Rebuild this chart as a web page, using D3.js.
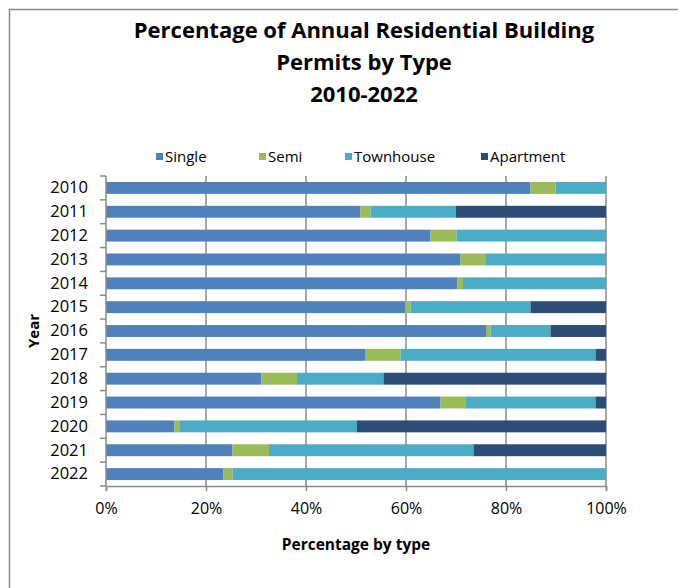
<!DOCTYPE html>
<html>
<head>
<meta charset="utf-8">
<script src="https://cdn.jsdelivr.net/npm/d3@7"></script>
<style>
  html, body { margin: 0; padding: 0; background: #fff; overflow: hidden; }
  svg { display: block; }
  svg text { font-family: "Open Sans", "Noto Sans", sans-serif; fill: #000; }
</style>
</head>
<body>
<div id="chart"></div>
<script>
const years = ["2010", "2011", "2012", "2013", "2014", "2015", "2016",
  "2017", "2018", "2019", "2020", "2021", "2022"];
const types = ["Single", "Semi", "Townhouse", "Apartment"];
const single = [84.9, 50.9, 64.9, 70.9, 70.3, 59.8, 76.0, 51.8, 31.1, 66.9, 13.7, 25.3, 23.5];
const semi = [5.0, 2.0, 5.2, 5.1, 1.1, 1.1, 0.9, 7.1, 7.1, 5.1, 1.1, 7.3, 1.8];
const townhouse = [10.1, 17.1, 29.9, 24.0, 28.6, 24.0, 12.0, 39.0, 17.3, 25.9, 35.4, 40.9, 74.7];
const apartment = [0, 30.0, 0, 0, 0, 15.1, 11.1, 2.1, 44.5, 2.1, 49.8, 26.5, 0];
const xTicks = [0, 0.2, 0.4, 0.6, 0.8, 1];
const colors = ["#4F81BD", "#9BBB59", "#4BACC6", "#2C4D75"];

let rows = years.map((yr, i) => ({
  year: yr,
  Single: single[i],
  Semi: semi[i],
  Townhouse: townhouse[i],
  Apartment: apartment[i],
}));

let width = 678, height = 588;
let svg = d3.select("#chart").append("svg")
  .attr("width", width)
  .attr("height", height);

// outer frame (runs off the right and bottom edges)
svg.append("rect")
  .attr("x", 9.5).attr("y", 9.5)
  .attr("width", 720).attr("height", 640)
  .attr("fill", "none")
  .attr("stroke", "#8a8a8a")
  .attr("stroke-width", 1.5);

// title
let title = svg.append("text")
  .attr("text-anchor", "middle")
  .style("font-size", "22px")
  .style("font-weight", "bold");
["Percentage of Annual Residential Building", "Permits by Type", "2010-2022"]
  .forEach((t, i) => {
    title.append("tspan").attr("x", 364).attr("y", 38 + i * 32).text(t);
  });

let x = d3.scaleLinear().domain([0, 1]).range([106, 606]);
let y = d3.scaleBand().domain(years).range([176, 486])
  .paddingInner(0.5).paddingOuter(0.25);
let color = d3.scaleOrdinal().domain(types).range(colors);

// gridlines
svg.append("g")
  .selectAll("line")
  .data(xTicks.slice(1))
  .enter()
  .append("line")
  .attr("x1", (d) => x(d)).attr("x2", (d) => x(d))
  .attr("y1", 176).attr("y2", 486)
  .attr("stroke", "#8a8a8a")
  .attr("stroke-width", 1.5);

// stacked bars
let stack = d3.stack().keys(types).offset(d3.stackOffsetExpand);
let series = stack(rows);

svg.append("g")
  .selectAll("g")
  .data(series)
  .enter()
  .append("g")
  .attr("fill", (d) => color(d.key))
  .selectAll("rect")
  .data((d) => d)
  .enter()
  .append("rect")
  .attr("x", (d) => x(d[0]))
  .attr("width", (d) => x(d[1]) - x(d[0]))
  .attr("y", (d) => y(d.data.year))
  .attr("height", y.bandwidth());

// y axis
let yAxis = svg.append("g")
  .attr("transform", "translate(106,0)")
  .call(d3.axisLeft(y).tickSize(0).tickPadding(18));
yAxis.select(".domain").remove();
yAxis.selectAll("text")
  .style("font-size", "16.5px")
  .style("font-family", "'Open Sans', sans-serif")
  .attr("fill", "#000");

svg.append("line")
  .attr("x1", 106).attr("x2", 106)
  .attr("y1", 176).attr("y2", 486)
  .attr("stroke", "#8a8a8a")
  .attr("stroke-width", 1.5);

svg.append("g")
  .selectAll("line")
  .data(d3.range(years.length + 1))
  .enter()
  .append("line")
  .attr("x1", 100).attr("x2", 106)
  .attr("y1", (i) => 176 + i * (310 / years.length))
  .attr("y2", (i) => 176 + i * (310 / years.length))
  .attr("stroke", "#8a8a8a")
  .attr("stroke-width", 1.5);

// x axis
let xAxis = svg.append("g")
  .attr("transform", "translate(0,486)")
  .call(d3.axisBottom(x).tickValues(xTicks).tickFormat(d3.format(".0%"))
    .tickSize(5).tickPadding(12));
xAxis.select(".domain")
  .attr("stroke", "#8a8a8a")
  .attr("stroke-width", 1.5);
xAxis.selectAll(".tick line")
  .attr("stroke", "#8a8a8a")
  .attr("stroke-width", 1.5);
xAxis.selectAll("text")
  .style("font-size", "16px")
  .style("font-family", "'Open Sans', sans-serif")
  .attr("fill", "#000");

// axis titles
svg.append("text")
  .attr("x", 356).attr("y", 550)
  .attr("text-anchor", "middle")
  .style("font-size", "15.5px")
  .style("font-weight", "bold")
  .text("Percentage by type");

svg.append("text")
  .attr("transform", "translate(39,331) rotate(-90)")
  .attr("text-anchor", "middle")
  .style("font-size", "15px")
  .style("font-weight", "bold")
  .text("Year");

// legend
let legendX = [156, 259, 345, 481];
let legend = svg.append("g")
  .selectAll("g")
  .data(types)
  .enter()
  .append("g")
  .attr("transform", (d, i) => "translate(" + legendX[i] + ",157)");
legend.append("rect")
  .attr("x", 0).attr("y", -4)
  .attr("width", 7).attr("height", 7)
  .attr("fill", (d) => color(d));
legend.append("text")
  .attr("x", 9).attr("y", 0)
  .attr("dy", "0.35em")
  .style("font-size", "15px")
  .text((d) => d);
</script>
</body>
</html>
